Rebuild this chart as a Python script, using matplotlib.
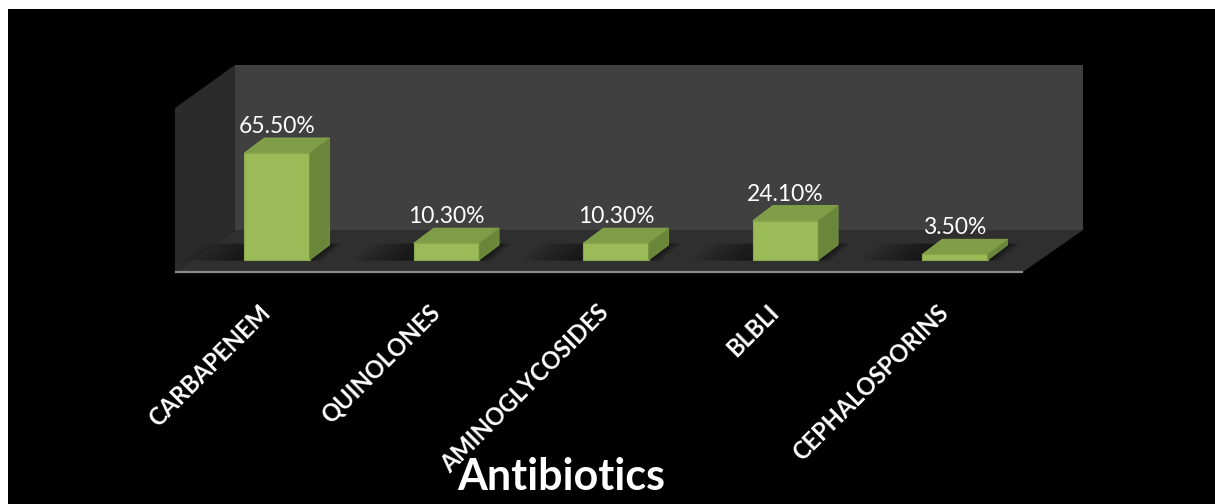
import matplotlib.pyplot as plt
from matplotlib.patches import Polygon, Rectangle

categories = ['CARBAPENEM', 'QUINOLONES', 'AMINOGLYCOSIDES', 'BLBLI', 'CEPHALOSPORINS']
values = [65.5, 10.3, 10.3, 24.1, 3.5]
title = 'Antibiotics'

# colours of the 3d bar faces
front_c = '#9bbb59'
top_c = '#7f9d47'
side_c = '#6a863a'

plt.rcParams['font.family'] = ['Lato', 'DejaVu Sans']

fig = plt.figure(figsize=(12.15, 5.04), dpi=100, facecolor='white')
# black slide area, white strip along the top and left edge
fig.patches.append(Rectangle((8 / 1215, 0), 1, 1 - 9 / 504, transform=fig.transFigure,
                             facecolor='black', edgecolor='none', zorder=-5))

ax = fig.add_axes([0, 0, 1, 1])
ax.set_facecolor('none')
ax.set_xlim(-1.634, 5.534)
ax.set_ylim(-149.4, 159.2)
ax.axis('off')

# depth of the bars and of the chart box (data units)
bw = 0.385
dx, dy = 0.118, 9.2
wdx, wdy = 0.354, 25.7

# chart box: floor, side wall, back wall
fl, fr, fb = -0.602, 4.401, -7.35
top_back, top_side = 119.4, 93.0
ax.add_patch(Polygon([(fl + wdx, fb + wdy), (fr + wdx, fb + wdy), (fr + wdx, top_back),
                      (fl + wdx, top_back)], closed=True, fc='#404040', ec='none', zorder=1))
ax.add_patch(Polygon([(fl, fb), (fl + wdx, fb + wdy), (fl + wdx, top_back), (fl, top_side)],
                     closed=True, fc='#2b2b2b', ec='none', zorder=1))
ax.add_patch(Polygon([(fl, fb), (fr, fb), (fr + wdx, fb + wdy), (fl + wdx, fb + wdy)],
                     closed=True, fc='#2f2f2f', ec='none', zorder=1))
ax.plot([fl, fr], [fb, fb], color='#8a8a8a', lw=1.6, zorder=2, solid_capstyle='butt')

for i, (cat, v) in enumerate(zip(categories, values)):
    x0, x1 = i - bw / 2, i + bw / 2

    # soft shadow on the floor
    for k in range(8):
        s = 0.03 * (8 - k)
        ax.add_patch(Polygon([(x0 - s * 1.5, -0.3), (x1 + s * 0.3, -0.3),
                              (x1 + dx + s * 0.3, dy + 0.8), (x0 + dx - s * 1.5, dy + 0.8)],
                             closed=True, fc='black', ec='none', alpha=0.07, zorder=2))

    ax.add_patch(Rectangle((x0, 0), bw, v, fc=front_c, ec='#8aa94e', lw=0.8, zorder=4))
    ax.add_patch(Polygon([(x0, v), (x1, v), (x1 + dx, v + dy), (x0 + dx, v + dy)],
                         closed=True, fc=top_c, ec='#8aa94e', lw=0.6, zorder=4))
    ax.add_patch(Polygon([(x1, 0), (x1 + dx, dy), (x1 + dx, v + dy), (x1, v)],
                         closed=True, fc=side_c, ec='#76943f', lw=0.6, zorder=4))

    ax.text(i, v + dy + 3, f'{v:.2f}%', color='white', fontsize=16.5,
            ha='center', va='baseline', zorder=5)

    ax.text(i - 0.11, -25, cat, color='white', fontsize=17, fontweight='bold',
            rotation=45, rotation_mode='anchor', ha='right', va='top', zorder=5)

ax.text(1.68, -141, title, color='white', fontsize=31, fontweight='bold',
        ha='center', va='baseline', zorder=6)

fig.savefig('out.png', dpi=100, facecolor=fig.get_facecolor())
